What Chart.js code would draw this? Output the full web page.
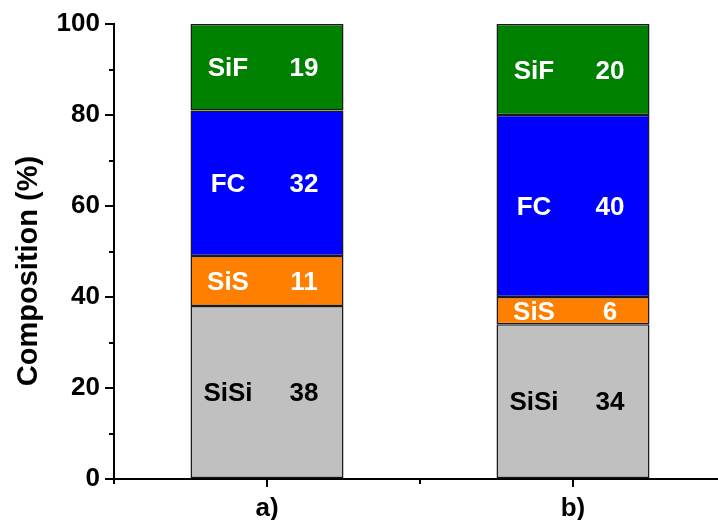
<!DOCTYPE html>
<html>
<head>
<meta charset="utf-8">
<script src="https://cdn.jsdelivr.net/npm/chart.js@4/dist/chart.umd.min.js"></script>
<style>
  html, body { margin: 0; padding: 0; background: #fff; overflow: hidden; }
  #wrap { width: 730px; height: 520px; }
</style>
</head>
<body>
<div id="wrap"><canvas id="grafico" width="730" height="520"></canvas></div>
<script>
// data
var categorias = ['a)', 'b)'];
var nomes = ['SiSi', 'SiS', 'FC', 'SiF'];
var valSiSi = [38, 34];
var valSiS = [11, 6];
var valFC = [32, 40];
var valSiF = [19, 20];
var yTicks = [0, 20, 40, 60, 80, 100];
var yMinor = [10, 30, 50, 70, 90];

var fonte = "'Liberation Sans', Arial, sans-serif";
var corTexto = ['#000000', '#ffffff', '#ffffff', '#ffffff'];

// labels inside each segment + minor ticks + y title
var rotulos = {
  id: 'rotulos',
  afterDatasetsDraw: function(chart){
    var ctx = chart.ctx;
    ctx.save();
    ctx.font = 'bold 26px ' + fonte;
    ctx.textAlign = 'center';
    ctx.textBaseline = 'middle';
    chart.data.datasets.forEach(function(ds, i){
      var meta = chart.getDatasetMeta(i);
      meta.data.forEach(function(bar, j){
        var yc = (bar.y + bar.base) / 2 + 2;
        ctx.fillStyle = corTexto[i];
        ctx.fillText(ds.label, bar.x - 39, yc);
        ctx.fillText(String(ds.data[j]), bar.x + 37, yc);
      });
    });
    ctx.restore();
  },
  afterDraw: function(chart){
    var ctx = chart.ctx;
    var y = chart.scales.y, x = chart.scales.x;
    ctx.save();
    ctx.strokeStyle = '#000';
    ctx.lineWidth = 2;
    yMinor.forEach(function(v){
      var py = Math.round(y.getPixelForValue(v));
      ctx.beginPath();
      ctx.moveTo(y.right - 5, py);
      ctx.lineTo(y.right, py);
      ctx.stroke();
    });
    // ticks at category boundaries
    for (var k = 0; k <= categorias.length; k++) {
      var px = x.getPixelForValue(k - 0.5);
      ctx.beginPath();
      ctx.moveTo(px, x.top);
      ctx.lineTo(px, x.top + 5);
      ctx.stroke();
    }
    ctx.fillStyle = '#000';
    ctx.font = 'bold 29px ' + fonte;
    ctx.textAlign = 'center';
    ctx.textBaseline = 'middle';
    ctx.translate(29, 271);
    ctx.rotate(-Math.PI / 2);
    ctx.fillText('Composition (%)', 0, 0);
    ctx.restore();
  }
};

var type = 'bar';

var data = {
  labels: categorias,
  datasets: [
    { label: nomes[0], data: valSiSi, backgroundColor: '#C0C0C0' },
    { label: nomes[1], data: valSiS, backgroundColor: '#FF8000' },
    { label: nomes[2], data: valFC, backgroundColor: '#0000FF' },
    { label: nomes[3], data: valSiF, backgroundColor: '#008000' }
  ]
};

data.datasets.forEach(function(ds){
  ds.borderColor = '#1a1a1a';
  ds.borderWidth = 1.5;
  ds.borderSkipped = false;
  ds.barPercentage = 1.0;
  ds.categoryPercentage = 0.5;
});

var options = {
  responsive: false,
  animation: false,
  layout: { padding: { top: 24, right: 4, bottom: 0, left: 0 } },
  plugins: {
    legend: { display: false },
    title: { display: false },
    tooltip: { enabled: false }
  },
  scales: {
    x: {
      stacked: true,
      offset: true,
      grid: { offset: false, drawOnChartArea: false, drawTicks: true, tickLength: 8, color: '#000', lineWidth: 2 },
      border: { display: true, color: '#000', width: 2 },
      ticks: { color: '#000', padding: 6, font: { family: fonte, size: 26, weight: 'bold' } },
      afterFit: function(s){ s.height = 41; }
    },
    y: {
      stacked: true,
      min: 0,
      max: 100,
      afterBuildTicks: function(s){ s.ticks = yTicks.map(function(v){ return { value: v }; }); },
      grid: { drawOnChartArea: false, drawTicks: true, tickLength: 9, color: '#000', lineWidth: 2 },
      border: { display: true, color: '#000', width: 2 },
      ticks: { color: '#000', padding: 5, font: { family: fonte, size: 26, weight: 'bold' } },
      afterFit: function(s){ s.width = 114; }
    }
  }
};

var ctx = document.getElementById('grafico').getContext('2d');
new Chart(ctx, { type: type, data: data, options: options, plugins: [rotulos] });
</script>
</body>
</html>
